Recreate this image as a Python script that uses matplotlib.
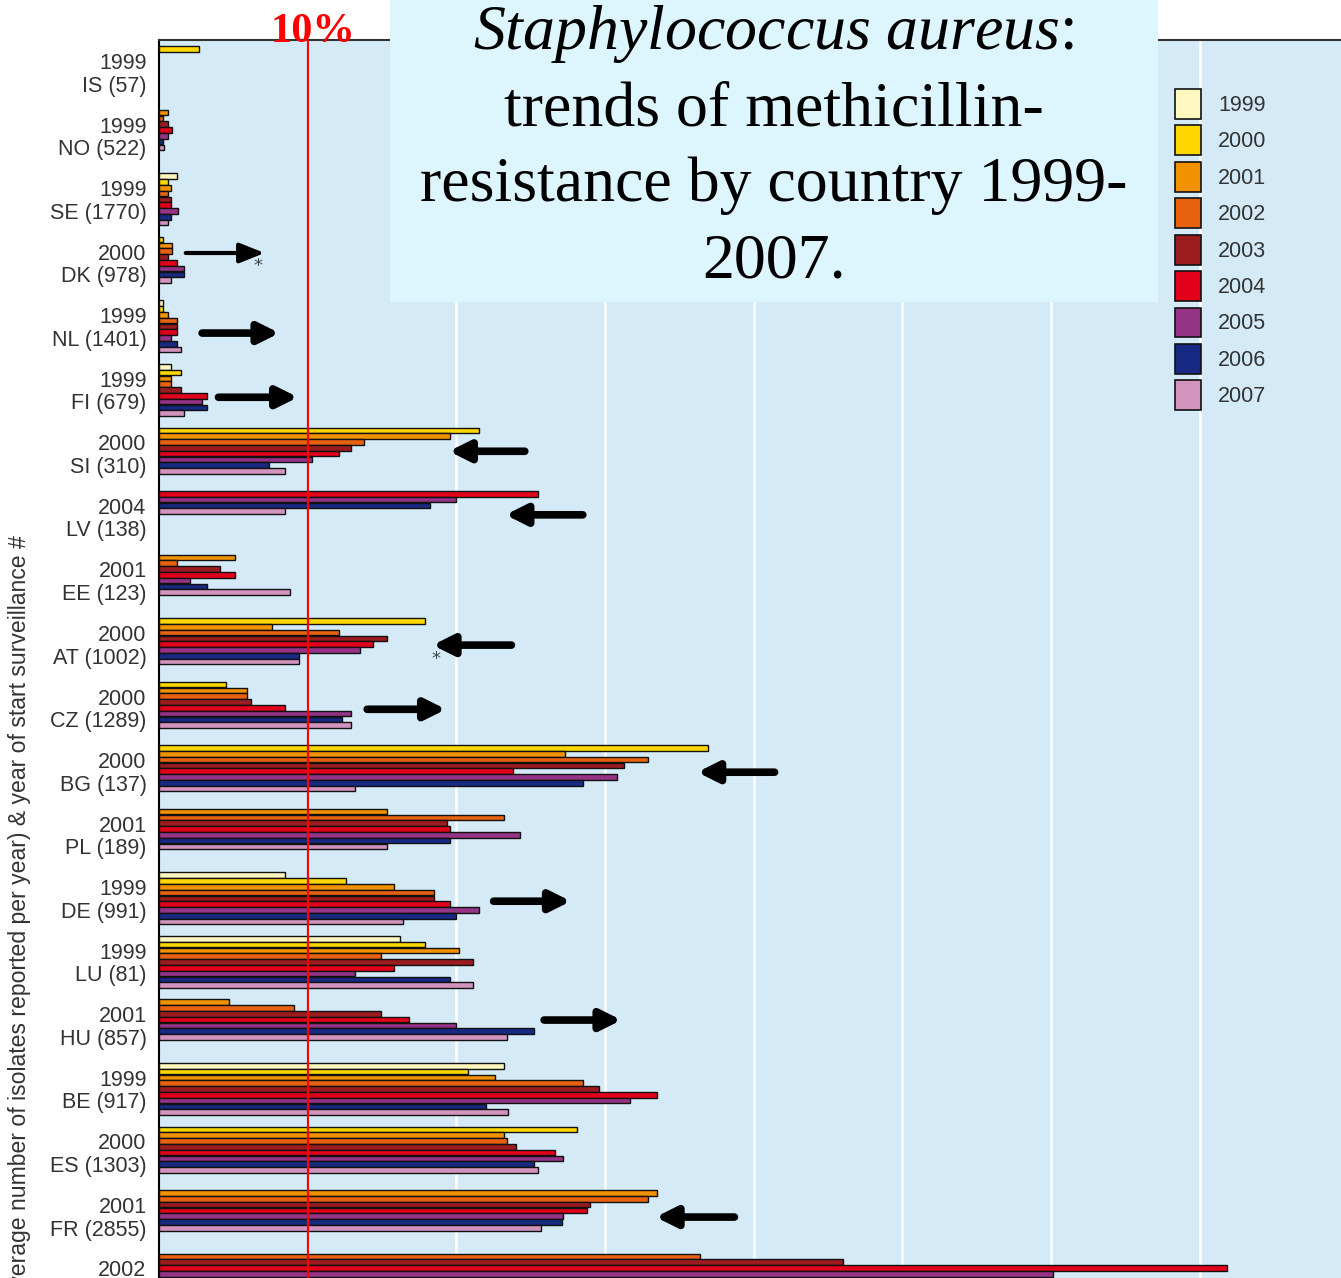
import matplotlib.pyplot as plt
import matplotlib.patches as mpatches
import numpy as np

nan = np.nan

countries = ["IS (57)", "NO (522)", "SE (1770)", "DK (978)", "NL (1401)", "FI (679)",
             "SI (310)", "LV (138)", "EE (123)", "AT (1002)", "CZ (1289)", "BG (137)",
             "PL (189)", "DE (991)", "LU (81)", "HU (857)", "BE (917)", "ES (1303)",
             "FR (2855)", " "]
start_years = [1999, 1999, 1999, 2000, 1999, 1999, 2000, 2004, 2001, 2000, 2000, 2000,
               2001, 1999, 1999, 2001, 1999, 2000, 2001, 2002]

years = [1999, 2000, 2001, 2002, 2003, 2004, 2005, 2006, 2007]
# % MRSA per country, one list per year (nan = no bar)
r1999 = [nan, nan, 1.2, nan, 0.3, 0.8, nan, nan, nan, nan, nan, nan, nan, 8.5, 16.2, nan, 23.2, nan, nan, nan]
r2000 = [2.7, nan, 0.6, 0.3, 0.3, 1.5, 21.5, nan, nan, 17.9, 4.5, 36.9, nan, 12.6, 17.9, nan, 20.8, 28.1, nan, nan]
r2001 = [nan, 0.6, 0.8, 0.85, 0.6, 0.8, 19.6, nan, 5.1, 7.6, 5.9, 27.3, 15.3, 15.8, 20.2, 4.7, 22.6, 23.2, 33.5, nan]
r2002 = [nan, 0.3, 0.6, 0.85, 1.2, 0.8, 13.8, nan, 1.2, 12.1, 5.9, 32.9, 23.2, 18.5, 14.9, 9.1, 28.5, 23.4, 32.9, 36.4]
r2003 = [nan, 0.6, 0.8, 0.6, 1.2, 1.5, 12.9, nan, 4.1, 15.3, 6.2, 31.3, 19.4, 18.5, 21.1, 14.9, 29.6, 24.0, 29.0, 46.0]
r2004 = [nan, 0.9, 0.8, 1.2, 1.2, 3.2, 12.1, 25.5, 5.1, 14.4, 8.5, 23.8, 19.6, 19.6, 15.8, 16.8, 33.5, 26.6, 28.8, 71.8]
r2005 = [nan, 0.6, 1.3, 1.7, 0.8, 2.9, 10.3, 20.0, 2.1, 13.5, 12.9, 30.8, 24.3, 21.5, 13.2, 20.0, 31.7, 27.2, 27.2, 60.1]
r2006 = [nan, 0.3, 0.8, 1.7, 1.2, 3.2, 7.4, 18.2, 3.2, 9.4, 12.3, 28.5, 19.6, 20.0, 19.6, 25.2, 22.0, 25.2, 27.1, nan]
r2007 = [nan, 0.35, 0.6, 0.8, 1.5, 1.7, 8.5, 8.5, 8.8, 9.4, 12.9, 13.2, 15.3, 16.4, 21.1, 23.4, 23.5, 25.5, 25.7, nan]
rates = [r1999, r2000, r2001, r2002, r2003, r2004, r2005, r2006, r2007]

colors = ["#FFF6C0", "#FFD700", "#F39200", "#E8610F", "#9B1B1E",
          "#E2001A", "#953386", "#172983", "#D294BE"]

# arrows: (tail %, head %, group position)
arrows = [(1.8, 7.1, 3.21), (2.9, 8.1, 4.47), (4.0, 9.35, 5.48), (24.6, 19.5, 6.33),
          (28.5, 23.3, 7.33), (23.7, 18.4, 9.38), (14.0, 19.3, 10.39), (41.4, 36.2, 11.38),
          (22.5, 27.7, 13.41), (25.9, 31.1, 15.28), (38.7, 33.4, 18.38)]
stars = [(6.66, 3.41), (18.63, 9.6)]

W, H = 1341, 1278
fig = plt.figure(figsize=(W / 100, H / 100), dpi=100)
fig.patch.set_facecolor("white")

# axes placed in pixels, running past the right and bottom edge
ax = fig.add_axes([159 / W, 1 - 1300 / H, 1186 / W, 1260 / H])
ax.set_facecolor("#D5EAF7")
ax.set_xlim(0, 79.76)
ax.set_ylim(19.685, -0.1416)

slot = 0.0913
n = len(countries)
# bars of each country are stacked from the top, one per year with data
rank = np.zeros(n, dtype=int)
for j, yr in enumerate(years):
    vals = np.array(rates[j], dtype=float)
    ys, ws = [], []
    for i in range(n):
        if not np.isnan(vals[i]):
            ys.append(i + rank[i] * slot)
            ws.append(vals[i])
            rank[i] += 1
    ax.barh(ys, ws, height=0.088, color=colors[j],
            edgecolor="#111111", linewidth=1.0, zorder=3)

for g in range(10, 80, 10):
    ax.axvline(g, color="white", lw=1.8, zorder=1)
ax.axvline(10, color="#FF0000", lw=1.6, zorder=4)

ax.set_yticks(np.arange(n) + 0.354)
ax.set_yticklabels([f"{s}\n{c}" for s, c in zip(start_years, countries)],
                   fontsize=15.5, family="Liberation Sans", color="#333333",
                   linespacing=1.1)
ax.tick_params(axis="y", length=0, pad=9)
ax.set_xticks([])
for s in ["right", "bottom"]:
    ax.spines[s].set_visible(False)
ax.spines["left"].set_linewidth(1.5)
ax.spines["top"].set_linewidth(1.5)
ax.spines["top"].set_color("#333333")

for t, h, y in arrows:
    thin = y < 3.5
    ax.annotate("", xy=(h, y), xytext=(t, y),
                arrowprops=dict(arrowstyle="-|>,head_length=1.2,head_width=0.6" if not thin
                                else "-|>,head_length=1.5,head_width=0.6",
                                color="black", lw=3 if thin else 5.5, capstyle="round",
                                shrinkA=0, shrinkB=0), zorder=5)
for x, y in stars:
    ax.text(x, y, "*", ha="center", va="center", fontsize=13, color="#444444")

handles = [mpatches.Patch(facecolor=c, edgecolor="#111111", linewidth=1.2) for c in colors]
leg = ax.legend(handles, [str(y) for y in years], loc="upper left",
                bbox_to_anchor=(1175 / W, 1 - 89 / H), bbox_transform=fig.transFigure,
                frameon=False, prop={"family": "Liberation Sans", "size": 15.5},
                handlelength=1.2, handleheight=1.75, labelspacing=0.31,
                handletextpad=0.8, borderpad=0, borderaxespad=0)
for t in leg.get_texts():
    t.set_color("#333333")

fig.text(159 / W + 10 * 14.87 / W + 5 / W, 1 - 42 / H, "10%", color="#FF0000",
         fontsize=30.5, fontweight="bold", family="Liberation Serif", ha="center", va="baseline")

fig.text(20 / W, 1 - 535 / H,
         "Country (average number of isolates reported per year) & year of start surveillance #",
         rotation=90, ha="center", va="top", fontsize=16.6, family="Liberation Sans",
         color="#333333")

# title box
fig.patches.append(mpatches.Rectangle((390 / W, 1 - 302 / H), 768 / W, 302 / H,
                                      transform=fig.transFigure, facecolor="#DDF5FC",
                                      edgecolor="none", zorder=2))
plt.rcParams["mathtext.fontset"] = "custom"
plt.rcParams["mathtext.it"] = "Liberation Serif:italic"
plt.rcParams["mathtext.rm"] = "Liberation Serif"
title_lines = [r"$\mathit{Staphylococcus\ aureus}$:", "trends of methicillin-",
               "resistance by country 1999-", "2007."]
for i, line in enumerate(title_lines):
    fig.text(774 / W, 1 - (49 + 76 * i) / H, line, fontsize=46, family="Liberation Serif",
             ha="center", va="baseline", zorder=3)

fig.savefig("out.png", dpi=100)
